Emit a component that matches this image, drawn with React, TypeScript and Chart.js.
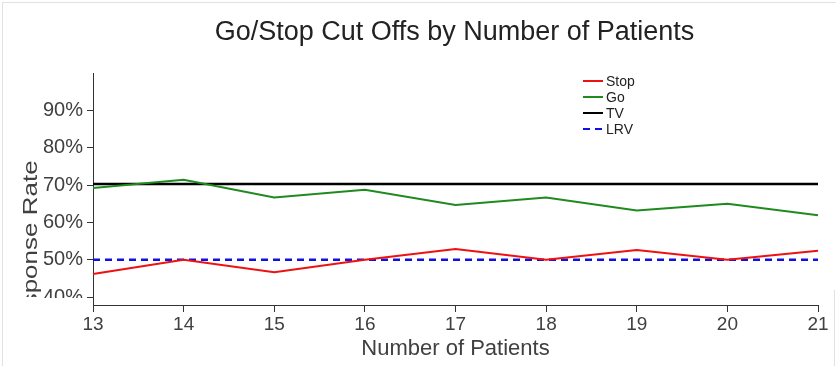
import React, { useEffect, useRef } from 'react';
import { Chart, registerables } from 'chart.js';

Chart.register(...registerables);

const patients = ['13', '14', '15', '16', '17', '18', '19', '20', '21'];
const stopRate = [46.2, 50.0, 46.7, 50.0, 52.9, 50.0, 52.6, 50.0, 52.4];
const goRate = [69.2, 71.4, 66.7, 68.75, 64.7, 66.7, 63.2, 65.0, 61.9];
const tvRate = [70.3, 70.3, 70.3, 70.3, 70.3, 70.3, 70.3, 70.3, 70.3];
const lrvRate = [50, 50, 50, 50, 50, 50, 50, 50, 50];
const yTickValues = [40, 50, 60, 70, 80, 90];

const chartTitle = 'Go/Stop Cut Offs by Number of Patients';
const xTitle = 'Number of Patients';
const yTitle = 'Response Rate';

const FONT = '"Liberation Sans", Arial, sans-serif';

const decoPlugin = {
  id: 'deco',
  afterDraw(chart: any) {
    const ctx = chart.ctx;
    const area = chart.chartArea;
    ctx.save();
    // title
    ctx.fillStyle = '#222';
    ctx.font = `27px ${FONT}`;
    ctx.textAlign = 'center';
    ctx.textBaseline = 'alphabetic';
    ctx.fillText(chartTitle, (area.left + area.right) / 2 - 1, 40);

    // y title, clipped like the reference
    ctx.save();
    ctx.beginPath();
    ctx.rect(0, 0, 92, 297);
    ctx.clip();
    ctx.translate(37, 250);
    ctx.rotate(-Math.PI / 2);
    ctx.scale(1, 0.75);
    ctx.font = `26px ${FONT}`;
    ctx.fillStyle = '#404040';
    ctx.textAlign = 'center';
    ctx.textBaseline = 'alphabetic';
    ctx.fillText(yTitle, 0, 0);
    ctx.restore();

    // mask for the clipped lower-left corner
    ctx.fillStyle = '#fff';
    ctx.fillRect(3, 298, 85, 14);
    ctx.fillRect(3, 298, 78, 68);

    // legend
    const rows = [81, 97, 113, 129];
    ctx.font = `14px ${FONT}`;
    ctx.textAlign = 'left';
    ctx.textBaseline = 'middle';
    chart.data.datasets.forEach((ds: any, i: number) => {
      const y = rows[i];
      ctx.beginPath();
      ctx.strokeStyle = ds.borderColor;
      ctx.lineWidth = 2;
      ctx.setLineDash(ds.borderDash || []);
      ctx.moveTo(583, y);
      ctx.lineTo(603, y);
      ctx.stroke();
      ctx.setLineDash([]);
      ctx.fillStyle = '#222';
      ctx.fillText(ds.label, 606, y + 1);
    });

    // faint frame lines
    ctx.strokeStyle = '#e2e2e2';
    ctx.lineWidth = 1;
    ctx.beginPath();
    ctx.moveTo(2.5, 2);
    ctx.lineTo(2.5, 366);
    ctx.moveTo(2, 2.5);
    ctx.lineTo(836, 2.5);
    ctx.moveTo(834.5, 290);
    ctx.lineTo(834.5, 366);
    ctx.stroke();
    ctx.restore();
  },
};

export default function App() {
  const ref = useRef<HTMLCanvasElement | null>(null);

  useEffect(() => {
    if (!ref.current) return;
    const chart = new Chart(ref.current, {
      type: 'line',
      data: {
        labels: patients,
        datasets: [
          { label: 'Stop', data: stopRate, borderColor: '#ee1111', borderWidth: 2, pointRadius: 0, fill: false, tension: 0 },
          { label: 'Go', data: goRate, borderColor: '#1f8a1f', borderWidth: 2, pointRadius: 0, fill: false, tension: 0 },
          { label: 'TV', data: tvRate, borderColor: '#000000', borderWidth: 2.5, pointRadius: 0, fill: false, tension: 0 },
          { label: 'LRV', data: lrvRate, borderColor: '#1010e0', borderWidth: 2.5, borderDash: [7, 5], pointRadius: 0, fill: false, tension: 0 },
        ],
      },
      options: {
        responsive: false,
        animation: false,
        layout: { padding: { top: 73, right: 20, left: 0, bottom: 0 } },
        plugins: {
          legend: { display: false },
          title: { display: false },
          tooltip: { enabled: false },
        },
        scales: {
          x: {
            type: 'category',
            offset: false,
            grid: { display: true, drawOnChartArea: false, drawTicks: true, tickLength: 7, color: '#333' },
            border: { display: true, color: '#333', width: 1 },
            ticks: { font: { size: 19, family: FONT }, color: '#404040', padding: 1, maxRotation: 0, autoSkip: false },
            title: { display: true, text: xTitle, font: { size: 22, family: FONT }, color: '#404040', padding: { top: 0, bottom: 4 } },
            afterFit: (s: any) => { s.height = 61; },
          },
          y: {
            min: 37.9,
            max: 100,
            afterBuildTicks: (s: any) => { s.ticks = yTickValues.map((v) => ({ value: v })); },
            grid: { display: true, drawOnChartArea: false, drawTicks: true, tickLength: 6, color: '#333' },
            border: { display: true, color: '#333', width: 1 },
            ticks: { font: { size: 20, family: FONT }, color: '#404040', padding: 4, callback: (v: any) => `${v}%` },
            afterFit: (s: any) => { s.width = 93; },
          },
        },
      },
      plugins: [decoPlugin],
    });
    return () => chart.destroy();
  }, []);

  return (
    <div style={{ position: 'fixed', left: 0, top: 0, width: 838, height: 366, background: '#fff' }}>
      <canvas ref={ref} width={838} height={366} style={{ display: 'block', width: 838, height: 366 }} />
    </div>
  );
}
